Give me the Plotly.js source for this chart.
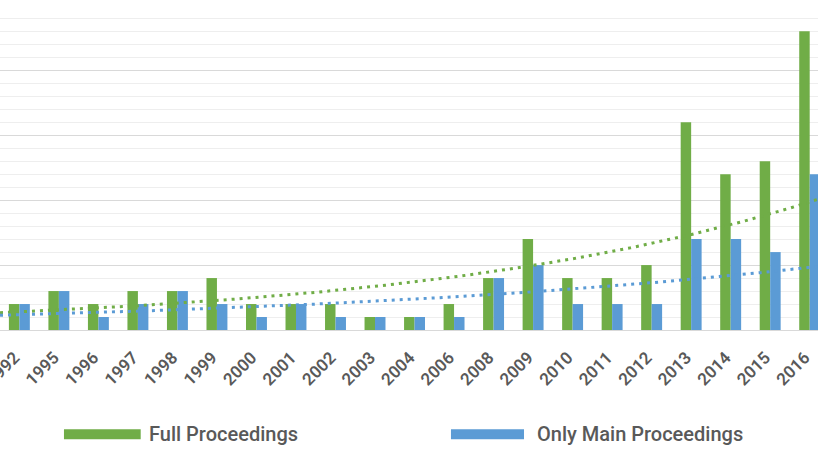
<!DOCTYPE html>
<html><head><meta charset="utf-8">
<script src="https://cdn.plot.ly/plotly-3.0.1.min.js"></script>
<style>html,body{margin:0;padding:0;background:#fff;overflow:hidden;} #chart{width:818px;height:460px;}</style>
</head><body><div id="chart"></div>
<script>
// ---- data ----
const years = ['1992','1995','1996','1997','1998','1999','2000','2001','2002','2003','2004','2006','2008','2009','2010','2011','2012','2013','2014','2015','2016'];
const fullProceedings = [2,3,2,3,3,4,2,2,2,1,1,2,4,7,4,4,5,16,12,13,23];
const mainProceedings = [2,3,1,2,3,2,1,2,1,1,1,1,4,5,2,2,2,7,7,6,12];
const seriesNames = ['Full Proceedings','Only Main Proceedings'];
const seriesColors = ['#70AD47','#5B9BD5'];

// ---- exponential trendline (least squares on ln y), like the spreadsheet trendline ----
const idx = years.map((_, i) => i);
function expFit(vals) {
  const n = vals.length;
  const lx = idx, ly = vals.map(v => Math.log(v));
  const mx = lx.reduce((s, v) => s + v, 0) / n;
  const my = ly.reduce((s, v) => s + v, 0) / n;
  let sxy = 0, sxx = 0;
  for (let i = 0; i < n; i++) { sxy += (lx[i] - mx) * (ly[i] - my); sxx += (lx[i] - mx) ** 2; }
  const b = sxy / sxx, a = my - b * mx;
  return x => Math.exp(a + b * x);
}
const xMin = -0.49, xMax = 20.21;
const tx = [];
for (let x = xMin; x <= xMax + 1e-9; x += 0.05) tx.push(x);
const fitFull = expFit(fullProceedings), fitMain = expFit(mainProceedings);

const font = "Roboto, 'Liberation Sans Narrow', sans-serif";
const txtColor = '#595959';

const traces = [
  { type: 'bar', x: idx, y: fullProceedings, name: seriesNames[0], marker: { color: seriesColors[0] }, showlegend: false, hoverinfo: 'skip' },
  { type: 'bar', x: idx, y: mainProceedings, name: seriesNames[1], marker: { color: seriesColors[1] }, showlegend: false, hoverinfo: 'skip' },
  { type: 'scatter', mode: 'lines', x: tx, y: tx.map(fitFull), line: { color: seriesColors[0], width: 3, dash: '3px,5px' }, showlegend: false, hoverinfo: 'skip' },
  { type: 'scatter', mode: 'lines', x: tx, y: tx.map(fitMain), line: { color: seriesColors[1], width: 3, dash: '3px,5px' }, showlegend: false, hoverinfo: 'skip' }
];

// legend drawn as swatches + text in paper coordinates
const legendY = -0.321;
const swH = 0.0155;
const legendItems = [
  { x0: 0.0782, x1: 0.172, tx: 0.1797 },
  { x0: 0.5513, x1: 0.6406, tx: 0.654 }
];
const shapes = legendItems.map((it, i) => ({
  type: 'rect', xref: 'paper', yref: 'paper', x0: it.x0, x1: it.x1, y0: legendY - swH, y1: legendY + swH,
  fillcolor: seriesColors[i], line: { width: 0 }
}));
const annotations = legendItems.map((it, i) => ({
  xref: 'paper', yref: 'paper', x: it.tx, y: legendY, xanchor: 'left', yanchor: 'middle',
  text: seriesNames[i], showarrow: false, font: { family: font, size: 20, weight: 500, color: txtColor }
}));

const layout = {
  width: 818, height: 460,
  margin: { l: 0, r: 0, t: 5, b: 130 },
  paper_bgcolor: '#ffffff', plot_bgcolor: '#ffffff',
  barmode: 'group', bargap: 0.47, bargroupgap: 0,
  showlegend: false,
  xaxis: {
    range: [xMin, xMax], tickmode: 'array', tickvals: idx.map(i => i - 0.12), ticktext: years,
    tickangle: -45, showgrid: false, zeroline: false, showline: true, linecolor: '#d9d9d9', linewidth: 1,
    ticks: '', ticklabeloverflow: 'allow', ticklabelstandoff: 10,
    tickfont: { family: font, size: 17, weight: 600, color: txtColor }
  },
  yaxis: {
    range: [0, 25.03], dtick: 5, showticklabels: false, zeroline: false, showline: false,
    gridcolor: '#d9d9d9', gridwidth: 1,
    minor: { dtick: 1, showgrid: true, gridcolor: '#eeeeee', gridwidth: 1 }
  },
  shapes: shapes, annotations: annotations
};

Plotly.newPlot('chart', traces, layout, { staticPlot: true, displayModeBar: false });
</script></body></html>
